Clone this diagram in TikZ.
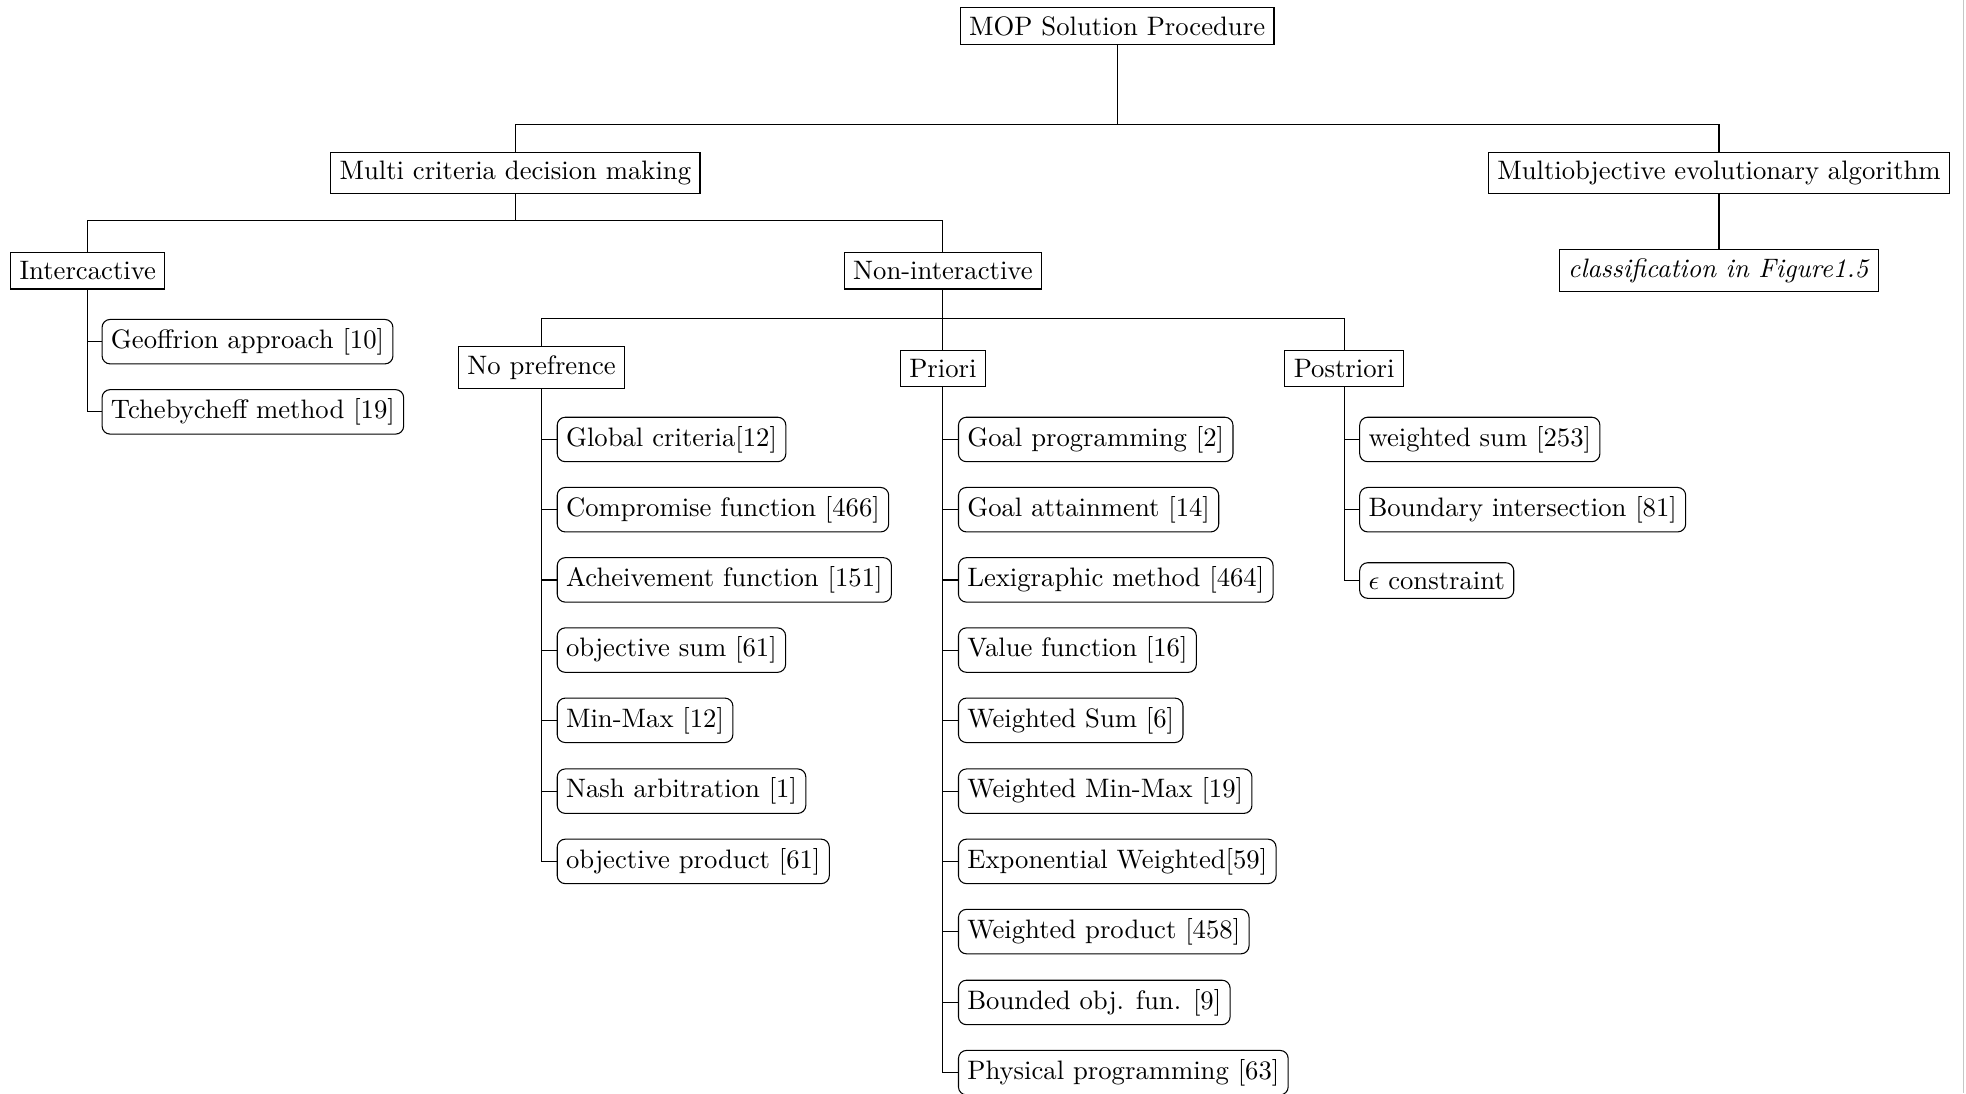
\documentclass[tikz,border=0pt]{standalone}
\begin{document}
\begin{tikzpicture}[x=0.47pt,y=-0.47pt,
  box/.style={draw,rectangle,inner sep=3.33pt},
  leaf/.style={draw,rectangle,rounded corners=3pt,inner sep=3.33pt,anchor=west},
  conn/.style={draw,line width=0.45pt}]
\useasboundingbox (0,0) rectangle (1568,872);
% main boxes
\node[box] (mop) at (891,21) {MOP Solution Procedure};
\node[box] (mcdm) at (411,138) {Multi criteria decision making};
\node[box] (moea) at (1371,138) {Multiobjective evolutionary algorithm};
\node[box] (cls) at (1371,216) {\textit{classification in Figure1.5}};
\node[box] (inter) at (70,216) {Intercactive};
\node[box] (nonint) at (752,216) {Non-interactive};
\node[box] (nopref) at (432,293) {No prefrence};
\node[box] (priori) at (752,294) {Priori};
\node[box] (post) at (1072,294) {Postriori};
% junctions
\coordinate (j1) at (891,99);
\coordinate (j2) at (411,176);
\coordinate (j3) at (752,254);
% leaves: interactive
\node[leaf] (i1) at (81,272.5) {Geoffrion approach [10]};
\node[leaf] (i2) at (81,328.5) {Tchebycheff method [19]};
% leaves: no preference
\node[leaf] (n1) at (444,350.5) {Global criteria[12]};
\node[leaf] (n2) at (444,406.5) {Compromise function [466]};
\node[leaf] (n3) at (444,462.5) {Acheivement function [151]};
\node[leaf] (n4) at (444,518.5) {objective sum [61]};
\node[leaf] (n5) at (444,574.5) {Min-Max [12]};
\node[leaf] (n6) at (444,631) {Nash arbitration [1]};
\node[leaf] (n7) at (444,687) {objective product [61]};
% leaves: priori
\node[leaf] (p1) at (764,350.5) {Goal programming [2]};
\node[leaf] (p2) at (764,406.5) {Goal attainment [14]};
\node[leaf] (p3) at (764,462.5) {Lexigraphic method [464]};
\node[leaf] (p4) at (764,518.5) {Value function [16]};
\node[leaf] (p5) at (764,574.5) {Weighted Sum [6]};
\node[leaf] (p6) at (764,631) {Weighted Min-Max [19]};
\node[leaf] (p7) at (764,687) {Exponential Weighted[59]};
\node[leaf] (p8) at (764,743) {Weighted product [458]};
\node[leaf] (p9) at (764,799.5) {Bounded obj. fun. [9]};
\node[leaf] (p10) at (764,855.5) {Physical programming [63]};
% leaves: postriori
\node[leaf] (q1) at (1084,350.5) {weighted sum [253]};
\node[leaf] (q2) at (1084,406.5) {Boundary intersection [81]};
\node[leaf] (q3) at (1084,463) {$\epsilon$ constraint};
% connectors
\draw[conn] (mop.south) -- (j1);
\draw[conn] (mcdm.north) |- (j1) -| (moea.north);
\draw[conn] (moea.south) -- (cls.north);
\draw[conn] (mcdm.south) -- (j2);
\draw[conn] (inter.north) |- (j2) -| (nonint.north);
\draw[conn] (nonint.south) -- (j3);
\draw[conn] (nopref.north) |- (j3) -| (post.north);
\draw[conn] (j3) -- (priori.north);
\foreach \c in {i1,i2} \draw[conn] (inter.south) |- (\c.west);
\foreach \c in {n1,n2,n3,n4,n5,n6,n7} \draw[conn] (nopref.south) |- (\c.west);
\foreach \c in {p1,p2,p3,p4,p5,p6,p7,p8,p9,p10} \draw[conn] (priori.south) |- (\c.west);
\foreach \c in {q1,q2,q3} \draw[conn] (post.south) |- (\c.west);
% page edge
\draw[gray!45,line width=0.6pt] (1566,0) -- (1566,872);
\end{tikzpicture}
\end{document}
